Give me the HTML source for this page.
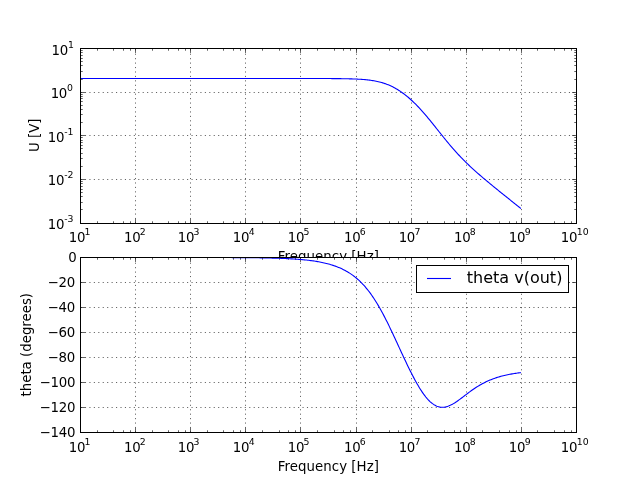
<!DOCTYPE html>
<html><head><meta charset="utf-8"><title>Bode plot</title>
<style>html,body{margin:0;padding:0;background:#fff;overflow:hidden}svg{display:block}text{font-family:"DejaVu Sans","Liberation Sans",sans-serif;fill:#000}.t{font-size:13.33px}.s{font-size:9.33px}.m{letter-spacing:-0.25px}.g{stroke:#000;stroke-width:0.62;stroke-dasharray:1.11 3.33;fill:none}.k{stroke:#000;stroke-width:0.62;fill:none}.f{stroke:#000;stroke-width:1;fill:none}.c{stroke:#00f;stroke-width:1.11;fill:none;stroke-linejoin:round}</style></head><body>
<svg width="640" height="480" viewBox="0 0 640 480">
<rect width="640" height="480" fill="#fff"/>
<text class="t" x="328.4" y="261" text-anchor="middle" style="letter-spacing:0.04px">Frequency [Hz]</text>
<rect x="80" y="257.5" width="497" height="175" fill="#fff"/>
<path class="g" d="M135.50 223.50V48.50M190.50 223.50V48.50M245.50 223.50V48.50M300.50 223.50V48.50M356.50 223.50V48.50M411.50 223.50V48.50M466.50 223.50V48.50M521.50 223.50V48.50M80.50 92.50H576.50M80.50 135.50H576.50M80.50 179.50H576.50"/>
<path class="k" d="M80.50 223.50v-4.44M80.50 48.50v4.44M135.50 223.50v-4.44M135.50 48.50v4.44M190.50 223.50v-4.44M190.50 48.50v4.44M245.50 223.50v-4.44M245.50 48.50v4.44M300.50 223.50v-4.44M300.50 48.50v4.44M356.50 223.50v-4.44M356.50 48.50v4.44M411.50 223.50v-4.44M411.50 48.50v4.44M466.50 223.50v-4.44M466.50 48.50v4.44M521.50 223.50v-4.44M521.50 48.50v4.44M576.50 223.50v-4.44M576.50 48.50v4.44M97.50 223.50v-2.22M97.50 48.50v2.22M113.50 223.50v-2.22M113.50 48.50v2.22M123.50 223.50v-2.22M123.50 48.50v2.22M130.50 223.50v-2.22M130.50 48.50v2.22M152.50 223.50v-2.22M152.50 48.50v2.22M168.50 223.50v-2.22M168.50 48.50v2.22M178.50 223.50v-2.22M178.50 48.50v2.22M185.50 223.50v-2.22M185.50 48.50v2.22M207.50 223.50v-2.22M207.50 48.50v2.22M223.50 223.50v-2.22M223.50 48.50v2.22M233.50 223.50v-2.22M233.50 48.50v2.22M240.50 223.50v-2.22M240.50 48.50v2.22M262.50 223.50v-2.22M262.50 48.50v2.22M279.50 223.50v-2.22M279.50 48.50v2.22M288.50 223.50v-2.22M288.50 48.50v2.22M295.50 223.50v-2.22M295.50 48.50v2.22M317.50 223.50v-2.22M317.50 48.50v2.22M334.50 223.50v-2.22M334.50 48.50v2.22M343.50 223.50v-2.22M343.50 48.50v2.22M350.50 223.50v-2.22M350.50 48.50v2.22M372.50 223.50v-2.22M372.50 48.50v2.22M389.50 223.50v-2.22M389.50 48.50v2.22M398.50 223.50v-2.22M398.50 48.50v2.22M405.50 223.50v-2.22M405.50 48.50v2.22M427.50 223.50v-2.22M427.50 48.50v2.22M444.50 223.50v-2.22M444.50 48.50v2.22M454.50 223.50v-2.22M454.50 48.50v2.22M460.50 223.50v-2.22M460.50 48.50v2.22M482.50 223.50v-2.22M482.50 48.50v2.22M499.50 223.50v-2.22M499.50 48.50v2.22M509.50 223.50v-2.22M509.50 48.50v2.22M516.50 223.50v-2.22M516.50 48.50v2.22M537.50 223.50v-2.22M537.50 48.50v2.22M554.50 223.50v-2.22M554.50 48.50v2.22M564.50 223.50v-2.22M564.50 48.50v2.22M571.50 223.50v-2.22M571.50 48.50v2.22M80.50 48.50h4.44M576.50 48.50h-4.44M80.50 92.50h4.44M576.50 92.50h-4.44M80.50 135.50h4.44M576.50 135.50h-4.44M80.50 179.50h4.44M576.50 179.50h-4.44M80.50 223.50h4.44M576.50 223.50h-4.44M80.50 209.50h2.22M576.50 209.50h-2.22M80.50 202.50h2.22M576.50 202.50h-2.22M80.50 196.50h2.22M576.50 196.50h-2.22M80.50 192.50h2.22M576.50 192.50h-2.22M80.50 189.50h2.22M576.50 189.50h-2.22M80.50 186.50h2.22M576.50 186.50h-2.22M80.50 183.50h2.22M576.50 183.50h-2.22M80.50 181.50h2.22M576.50 181.50h-2.22M80.50 166.50h2.22M576.50 166.50h-2.22M80.50 158.50h2.22M576.50 158.50h-2.22M80.50 153.50h2.22M576.50 153.50h-2.22M80.50 148.50h2.22M576.50 148.50h-2.22M80.50 145.50h2.22M576.50 145.50h-2.22M80.50 142.50h2.22M576.50 142.50h-2.22M80.50 140.50h2.22M576.50 140.50h-2.22M80.50 137.50h2.22M576.50 137.50h-2.22M80.50 122.50h2.22M576.50 122.50h-2.22M80.50 114.50h2.22M576.50 114.50h-2.22M80.50 109.50h2.22M576.50 109.50h-2.22M80.50 105.50h2.22M576.50 105.50h-2.22M80.50 101.50h2.22M576.50 101.50h-2.22M80.50 98.50h2.22M576.50 98.50h-2.22M80.50 96.50h2.22M576.50 96.50h-2.22M80.50 94.50h2.22M576.50 94.50h-2.22M80.50 79.50h2.22M576.50 79.50h-2.22M80.50 71.50h2.22M576.50 71.50h-2.22M80.50 65.50h2.22M576.50 65.50h-2.22M80.50 61.50h2.22M576.50 61.50h-2.22M80.50 58.50h2.22M576.50 58.50h-2.22M80.50 55.50h2.22M576.50 55.50h-2.22M80.50 52.50h2.22M576.50 52.50h-2.22M80.50 50.50h2.22M576.50 50.50h-2.22"/>
<clipPath id="c1"><rect x="80.50" y="48.50" width="496.00" height="175.00"/></clipPath>
<path class="c" clip-path="url(#c1)" d="M80.00 78.50 L81.10 78.50 L82.21 78.50 L83.31 78.50 L84.42 78.50 L85.52 78.50 L86.63 78.50 L87.73 78.50 L88.84 78.50 L89.94 78.50 L91.05 78.50 L92.15 78.50 L93.26 78.50 L94.36 78.50 L95.47 78.50 L96.57 78.50 L97.68 78.50 L98.78 78.50 L99.89 78.50 L100.99 78.50 L102.10 78.50 L103.20 78.50 L104.31 78.50 L105.41 78.50 L106.52 78.50 L107.62 78.50 L108.73 78.50 L109.83 78.50 L110.94 78.50 L112.04 78.50 L113.15 78.50 L114.25 78.50 L115.36 78.50 L116.46 78.50 L117.57 78.50 L118.67 78.50 L119.78 78.50 L120.88 78.50 L121.99 78.50 L123.09 78.50 L124.20 78.50 L125.30 78.50 L126.41 78.50 L127.51 78.50 L128.62 78.50 L129.72 78.50 L130.83 78.50 L131.93 78.50 L133.04 78.50 L134.14 78.50 L135.25 78.50 L136.35 78.50 L137.46 78.50 L138.56 78.50 L139.67 78.50 L140.77 78.50 L141.88 78.50 L142.98 78.50 L144.09 78.50 L145.19 78.50 L146.30 78.50 L147.40 78.50 L148.51 78.50 L149.61 78.50 L150.72 78.50 L151.82 78.50 L152.93 78.50 L154.03 78.50 L155.14 78.50 L156.24 78.50 L157.35 78.50 L158.45 78.50 L159.56 78.50 L160.66 78.50 L161.77 78.50 L162.87 78.50 L163.98 78.50 L165.08 78.50 L166.19 78.50 L167.29 78.50 L168.40 78.50 L169.50 78.50 L170.61 78.50 L171.71 78.50 L172.82 78.50 L173.92 78.50 L175.03 78.50 L176.13 78.50 L177.24 78.50 L178.34 78.50 L179.45 78.50 L180.55 78.50 L181.66 78.50 L182.76 78.50 L183.87 78.50 L184.97 78.50 L186.08 78.50 L187.18 78.50 L188.29 78.50 L189.39 78.50 L190.50 78.50 L191.60 78.50 L192.71 78.50 L193.81 78.50 L194.92 78.50 L196.02 78.50 L197.13 78.50 L198.23 78.50 L199.34 78.50 L200.44 78.50 L201.55 78.50 L202.65 78.50 L203.76 78.50 L204.86 78.50 L205.97 78.50 L207.07 78.50 L208.18 78.50 L209.28 78.50 L210.39 78.50 L211.49 78.50 L212.60 78.50 L213.70 78.50 L214.81 78.50 L215.91 78.50 L217.02 78.50 L218.12 78.50 L219.23 78.50 L220.33 78.50 L221.44 78.50 L222.54 78.50 L223.65 78.50 L224.75 78.50 L225.86 78.50 L226.96 78.50 L228.07 78.50 L229.17 78.50 L230.28 78.50 L231.38 78.50 L232.49 78.50 L233.59 78.50 L234.70 78.50 L235.80 78.50 L236.91 78.50 L238.01 78.50 L239.12 78.50 L240.22 78.50 L241.33 78.50 L242.43 78.50 L243.54 78.50 L244.64 78.50 L245.75 78.50 L246.85 78.50 L247.96 78.50 L249.06 78.50 L250.17 78.50 L251.27 78.50 L252.38 78.50 L253.48 78.50 L254.59 78.50 L255.69 78.50 L256.80 78.50 L257.90 78.50 L259.01 78.50 L260.11 78.50 L261.22 78.50 L262.32 78.50 L263.43 78.50 L264.53 78.50 L265.64 78.50 L266.74 78.50 L267.85 78.50 L268.95 78.50 L270.06 78.50 L271.16 78.50 L272.27 78.50 L273.37 78.50 L274.48 78.50 L275.58 78.50 L276.69 78.50 L277.79 78.50 L278.90 78.50 L280.00 78.50 L281.11 78.50 L282.21 78.50 L283.32 78.50 L284.42 78.50 L285.53 78.50 L286.63 78.50 L287.74 78.50 L288.84 78.50 L289.95 78.50 L291.05 78.50 L292.16 78.50 L293.26 78.50 L294.37 78.50 L295.47 78.50 L296.58 78.50 L297.68 78.50 L298.79 78.51 L299.89 78.51 L301.00 78.51 L302.10 78.51 L303.21 78.51 L304.31 78.51 L305.42 78.51 L306.52 78.51 L307.63 78.51 L308.73 78.51 L309.84 78.51 L310.94 78.51 L312.05 78.51 L313.15 78.52 L314.26 78.52 L315.36 78.52 L316.47 78.52 L317.57 78.52 L318.68 78.53 L319.78 78.53 L320.89 78.53 L321.99 78.53 L323.10 78.54 L324.20 78.54 L325.31 78.54 L326.41 78.55 L327.52 78.55 L328.62 78.56 L329.73 78.56 L330.83 78.57 L331.94 78.58 L333.04 78.58 L334.15 78.59 L335.25 78.60 L336.36 78.61 L337.46 78.62 L338.57 78.63 L339.67 78.65 L340.78 78.66 L341.88 78.68 L342.99 78.69 L344.09 78.71 L345.20 78.73 L346.30 78.75 L347.41 78.78 L348.51 78.80 L349.62 78.83 L350.72 78.86 L351.83 78.90 L352.93 78.94 L354.04 78.98 L355.14 79.02 L356.25 79.07 L357.35 79.12 L358.46 79.18 L359.56 79.25 L360.67 79.32 L361.77 79.39 L362.88 79.47 L363.98 79.56 L365.09 79.66 L366.19 79.77 L367.30 79.88 L368.40 80.01 L369.51 80.15 L370.61 80.29 L371.72 80.45 L372.82 80.62 L373.93 80.81 L375.03 81.01 L376.14 81.22 L377.24 81.46 L378.35 81.70 L379.45 81.97 L380.56 82.26 L381.66 82.56 L382.77 82.89 L383.87 83.24 L384.98 83.60 L386.08 84.00 L387.19 84.41 L388.29 84.85 L389.40 85.32 L390.50 85.81 L391.61 86.32 L392.71 86.87 L393.82 87.43 L394.92 88.03 L396.03 88.65 L397.13 89.30 L398.24 89.98 L399.34 90.68 L400.45 91.41 L401.55 92.17 L402.66 92.96 L403.76 93.77 L404.87 94.61 L405.97 95.48 L407.08 96.37 L408.18 97.29 L409.29 98.24 L410.39 99.22 L411.50 100.22 L412.60 101.24 L413.71 102.30 L414.81 103.37 L415.92 104.47 L417.02 105.60 L418.13 106.75 L419.23 107.92 L420.34 109.12 L421.44 110.33 L422.55 111.57 L423.65 112.83 L424.76 114.10 L425.86 115.39 L426.97 116.70 L428.07 118.02 L429.18 119.36 L430.28 120.71 L431.39 122.07 L432.49 123.43 L433.60 124.81 L434.70 126.19 L435.81 127.58 L436.91 128.97 L438.02 130.36 L439.12 131.75 L440.23 133.13 L441.33 134.52 L442.43 135.90 L443.54 137.27 L444.64 138.64 L445.75 139.99 L446.85 141.34 L447.96 142.68 L449.06 144.00 L450.17 145.31 L451.27 146.61 L452.38 147.89 L453.48 149.16 L454.59 150.41 L455.69 151.64 L456.80 152.86 L457.90 154.07 L459.01 155.25 L460.11 156.43 L461.22 157.58 L462.32 158.72 L463.43 159.85 L464.53 160.96 L465.64 162.05 L466.74 163.13 L467.85 164.20 L468.95 165.25 L470.06 166.30 L471.16 167.33 L472.27 168.35 L473.37 169.36 L474.48 170.36 L475.58 171.35 L476.69 172.33 L477.79 173.30 L478.90 174.27 L480.00 175.23 L481.11 176.18 L482.21 177.12 L483.32 178.06 L484.42 179.00 L485.53 179.93 L486.63 180.85 L487.74 181.77 L488.84 182.69 L489.95 183.61 L491.05 184.52 L492.16 185.42 L493.26 186.33 L494.37 187.23 L495.47 188.13 L496.58 189.03 L497.68 189.92 L498.79 190.82 L499.89 191.71 L501.00 192.60 L502.10 193.49 L503.21 194.38 L504.31 195.26 L505.42 196.15 L506.52 197.04 L507.63 197.92 L508.73 198.80 L509.84 199.69 L510.94 200.57 L512.05 201.45 L513.15 202.33 L514.26 203.21 L515.36 204.09 L516.47 204.97 L517.57 205.85 L518.68 206.73 L519.78 207.61 L520.89 208.48"/>
<rect class="f" x="80.50" y="48.50" width="496.00" height="175.00"/>
<path class="g" d="M135.50 432.50V257.50M190.50 432.50V257.50M245.50 432.50V257.50M300.50 432.50V257.50M356.50 432.50V257.50M411.50 432.50V257.50M466.50 432.50V257.50M521.50 432.50V257.50M80.50 282.50H576.50M80.50 307.50H576.50M80.50 332.50H576.50M80.50 357.50H576.50M80.50 382.50H576.50M80.50 407.50H576.50"/>
<path class="k" d="M80.50 432.50v-4.44M80.50 257.50v4.44M135.50 432.50v-4.44M135.50 257.50v4.44M190.50 432.50v-4.44M190.50 257.50v4.44M245.50 432.50v-4.44M245.50 257.50v4.44M300.50 432.50v-4.44M300.50 257.50v4.44M356.50 432.50v-4.44M356.50 257.50v4.44M411.50 432.50v-4.44M411.50 257.50v4.44M466.50 432.50v-4.44M466.50 257.50v4.44M521.50 432.50v-4.44M521.50 257.50v4.44M576.50 432.50v-4.44M576.50 257.50v4.44M97.50 432.50v-2.22M97.50 257.50v2.22M113.50 432.50v-2.22M113.50 257.50v2.22M123.50 432.50v-2.22M123.50 257.50v2.22M130.50 432.50v-2.22M130.50 257.50v2.22M152.50 432.50v-2.22M152.50 257.50v2.22M168.50 432.50v-2.22M168.50 257.50v2.22M178.50 432.50v-2.22M178.50 257.50v2.22M185.50 432.50v-2.22M185.50 257.50v2.22M207.50 432.50v-2.22M207.50 257.50v2.22M223.50 432.50v-2.22M223.50 257.50v2.22M233.50 432.50v-2.22M233.50 257.50v2.22M240.50 432.50v-2.22M240.50 257.50v2.22M262.50 432.50v-2.22M262.50 257.50v2.22M279.50 432.50v-2.22M279.50 257.50v2.22M288.50 432.50v-2.22M288.50 257.50v2.22M295.50 432.50v-2.22M295.50 257.50v2.22M317.50 432.50v-2.22M317.50 257.50v2.22M334.50 432.50v-2.22M334.50 257.50v2.22M343.50 432.50v-2.22M343.50 257.50v2.22M350.50 432.50v-2.22M350.50 257.50v2.22M372.50 432.50v-2.22M372.50 257.50v2.22M389.50 432.50v-2.22M389.50 257.50v2.22M398.50 432.50v-2.22M398.50 257.50v2.22M405.50 432.50v-2.22M405.50 257.50v2.22M427.50 432.50v-2.22M427.50 257.50v2.22M444.50 432.50v-2.22M444.50 257.50v2.22M454.50 432.50v-2.22M454.50 257.50v2.22M460.50 432.50v-2.22M460.50 257.50v2.22M482.50 432.50v-2.22M482.50 257.50v2.22M499.50 432.50v-2.22M499.50 257.50v2.22M509.50 432.50v-2.22M509.50 257.50v2.22M516.50 432.50v-2.22M516.50 257.50v2.22M537.50 432.50v-2.22M537.50 257.50v2.22M554.50 432.50v-2.22M554.50 257.50v2.22M564.50 432.50v-2.22M564.50 257.50v2.22M571.50 432.50v-2.22M571.50 257.50v2.22M80.50 257.50h4.44M576.50 257.50h-4.44M80.50 282.50h4.44M576.50 282.50h-4.44M80.50 307.50h4.44M576.50 307.50h-4.44M80.50 332.50h4.44M576.50 332.50h-4.44M80.50 357.50h4.44M576.50 357.50h-4.44M80.50 382.50h4.44M576.50 382.50h-4.44M80.50 407.50h4.44M576.50 407.50h-4.44M80.50 432.50h4.44M576.50 432.50h-4.44"/>
<clipPath id="c2"><rect x="80.50" y="257.50" width="496.00" height="175.00"/></clipPath>
<path class="c" clip-path="url(#c2)" d="M80.00 257.46 L81.10 257.46 L82.21 257.46 L83.31 257.46 L84.42 257.46 L85.52 257.46 L86.63 257.46 L87.73 257.46 L88.84 257.46 L89.94 257.46 L91.05 257.46 L92.15 257.46 L93.26 257.46 L94.36 257.46 L95.47 257.46 L96.57 257.46 L97.68 257.46 L98.78 257.46 L99.89 257.46 L100.99 257.46 L102.10 257.46 L103.20 257.46 L104.31 257.46 L105.41 257.46 L106.52 257.46 L107.62 257.46 L108.73 257.46 L109.83 257.46 L110.94 257.46 L112.04 257.46 L113.15 257.46 L114.25 257.46 L115.36 257.46 L116.46 257.46 L117.57 257.46 L118.67 257.46 L119.78 257.46 L120.88 257.46 L121.99 257.46 L123.09 257.46 L124.20 257.46 L125.30 257.46 L126.41 257.46 L127.51 257.46 L128.62 257.46 L129.72 257.46 L130.83 257.46 L131.93 257.46 L133.04 257.46 L134.14 257.46 L135.25 257.46 L136.35 257.46 L137.46 257.46 L138.56 257.46 L139.67 257.46 L140.77 257.46 L141.88 257.46 L142.98 257.46 L144.09 257.46 L145.19 257.46 L146.30 257.46 L147.40 257.46 L148.51 257.46 L149.61 257.46 L150.72 257.46 L151.82 257.46 L152.93 257.46 L154.03 257.46 L155.14 257.46 L156.24 257.46 L157.35 257.46 L158.45 257.46 L159.56 257.46 L160.66 257.46 L161.77 257.46 L162.87 257.46 L163.98 257.46 L165.08 257.46 L166.19 257.46 L167.29 257.46 L168.40 257.46 L169.50 257.46 L170.61 257.46 L171.71 257.46 L172.82 257.46 L173.92 257.47 L175.03 257.47 L176.13 257.47 L177.24 257.47 L178.34 257.47 L179.45 257.47 L180.55 257.47 L181.66 257.47 L182.76 257.47 L183.87 257.47 L184.97 257.47 L186.08 257.47 L187.18 257.47 L188.29 257.47 L189.39 257.47 L190.50 257.48 L191.60 257.48 L192.71 257.48 L193.81 257.48 L194.92 257.48 L196.02 257.48 L197.13 257.48 L198.23 257.48 L199.34 257.48 L200.44 257.49 L201.55 257.49 L202.65 257.49 L203.76 257.49 L204.86 257.49 L205.97 257.49 L207.07 257.50 L208.18 257.50 L209.28 257.50 L210.39 257.50 L211.49 257.50 L212.60 257.51 L213.70 257.51 L214.81 257.51 L215.91 257.51 L217.02 257.52 L218.12 257.52 L219.23 257.52 L220.33 257.53 L221.44 257.53 L222.54 257.53 L223.65 257.54 L224.75 257.54 L225.86 257.54 L226.96 257.55 L228.07 257.55 L229.17 257.56 L230.28 257.56 L231.38 257.57 L232.49 257.57 L233.59 257.58 L234.70 257.59 L235.80 257.59 L236.91 257.60 L238.01 257.60 L239.12 257.61 L240.22 257.62 L241.33 257.63 L242.43 257.63 L243.54 257.64 L244.64 257.65 L245.75 257.66 L246.85 257.67 L247.96 257.68 L249.06 257.69 L250.17 257.70 L251.27 257.72 L252.38 257.73 L253.48 257.74 L254.59 257.75 L255.69 257.77 L256.80 257.78 L257.90 257.80 L259.01 257.81 L260.11 257.83 L261.22 257.85 L262.32 257.87 L263.43 257.89 L264.53 257.91 L265.64 257.93 L266.74 257.95 L267.85 257.97 L268.95 258.00 L270.06 258.02 L271.16 258.05 L272.27 258.08 L273.37 258.11 L274.48 258.14 L275.58 258.17 L276.69 258.21 L277.79 258.24 L278.90 258.28 L280.00 258.32 L281.11 258.36 L282.21 258.40 L283.32 258.45 L284.42 258.49 L285.53 258.54 L286.63 258.59 L287.74 258.65 L288.84 258.70 L289.95 258.76 L291.05 258.83 L292.16 258.89 L293.26 258.96 L294.37 259.03 L295.47 259.10 L296.58 259.18 L297.68 259.26 L298.79 259.35 L299.89 259.44 L301.00 259.53 L302.10 259.63 L303.21 259.73 L304.31 259.84 L305.42 259.95 L306.52 260.07 L307.63 260.19 L308.73 260.32 L309.84 260.46 L310.94 260.60 L312.05 260.75 L313.15 260.90 L314.26 261.07 L315.36 261.24 L316.47 261.42 L317.57 261.60 L318.68 261.80 L319.78 262.00 L320.89 262.22 L321.99 262.44 L323.10 262.68 L324.20 262.92 L325.31 263.18 L326.41 263.45 L327.52 263.73 L328.62 264.03 L329.73 264.34 L330.83 264.66 L331.94 265.00 L333.04 265.36 L334.15 265.73 L335.25 266.12 L336.36 266.52 L337.46 266.95 L338.57 267.40 L339.67 267.86 L340.78 268.35 L341.88 268.86 L342.99 269.39 L344.09 269.95 L345.20 270.53 L346.30 271.14 L347.41 271.78 L348.51 272.45 L349.62 273.14 L350.72 273.87 L351.83 274.63 L352.93 275.42 L354.04 276.25 L355.14 277.11 L356.25 278.02 L357.35 278.96 L358.46 279.94 L359.56 280.96 L360.67 282.02 L361.77 283.13 L362.88 284.28 L363.98 285.48 L365.09 286.72 L366.19 288.02 L367.30 289.36 L368.40 290.75 L369.51 292.20 L370.61 293.69 L371.72 295.24 L372.82 296.84 L373.93 298.49 L375.03 300.20 L376.14 301.95 L377.24 303.76 L378.35 305.62 L379.45 307.52 L380.56 309.48 L381.66 311.48 L382.77 313.53 L383.87 315.62 L384.98 317.75 L386.08 319.92 L387.19 322.12 L388.29 324.36 L389.40 326.63 L390.50 328.93 L391.61 331.25 L392.71 333.59 L393.82 335.95 L394.92 338.32 L396.03 340.70 L397.13 343.09 L398.24 345.49 L399.34 347.88 L400.45 350.28 L401.55 352.66 L402.66 355.04 L403.76 357.41 L404.87 359.76 L405.97 362.09 L407.08 364.40 L408.18 366.69 L409.29 368.95 L410.39 371.17 L411.50 373.36 L412.60 375.52 L413.71 377.63 L414.81 379.69 L415.92 381.71 L417.02 383.67 L418.13 385.58 L419.23 387.43 L420.34 389.21 L421.44 390.92 L422.55 392.57 L423.65 394.14 L424.76 395.62 L425.86 397.03 L426.97 398.36 L428.07 399.60 L429.18 400.75 L430.28 401.80 L431.39 402.77 L432.49 403.64 L433.60 404.42 L434.70 405.10 L435.81 405.69 L436.91 406.18 L438.02 406.58 L439.12 406.89 L440.23 407.10 L441.33 407.23 L442.43 407.26 L443.54 407.22 L444.64 407.09 L445.75 406.89 L446.85 406.61 L447.96 406.26 L449.06 405.84 L450.17 405.36 L451.27 404.83 L452.38 404.25 L453.48 403.61 L454.59 402.94 L455.69 402.23 L456.80 401.49 L457.90 400.72 L459.01 399.92 L460.11 399.11 L461.22 398.28 L462.32 397.45 L463.43 396.61 L464.53 395.76 L465.64 394.92 L466.74 394.08 L467.85 393.25 L468.95 392.42 L470.06 391.61 L471.16 390.81 L472.27 390.03 L473.37 389.26 L474.48 388.51 L475.58 387.78 L476.69 387.06 L477.79 386.37 L478.90 385.70 L480.00 385.05 L481.11 384.42 L482.21 383.81 L483.32 383.22 L484.42 382.65 L485.53 382.10 L486.63 381.57 L487.74 381.07 L488.84 380.58 L489.95 380.11 L491.05 379.65 L492.16 379.22 L493.26 378.80 L494.37 378.40 L495.47 378.02 L496.58 377.65 L497.68 377.30 L498.79 376.97 L499.89 376.64 L501.00 376.33 L502.10 376.04 L503.21 375.75 L504.31 375.48 L505.42 375.22 L506.52 374.98 L507.63 374.74 L508.73 374.51 L509.84 374.30 L510.94 374.09 L512.05 373.89 L513.15 373.70 L514.26 373.52 L515.36 373.35 L516.47 373.18 L517.57 373.02 L518.68 372.87 L519.78 372.73 L520.89 372.59"/>
<rect class="f" x="80.50" y="257.50" width="496.00" height="175.00"/>
<text class="t" x="68.75" y="242"><tspan class="m">10</tspan><tspan class="s" dy="-7" dx="-0.6">1</tspan></text>
<text class="t" x="68.75" y="452"><tspan class="m">10</tspan><tspan class="s" dy="-7" dx="-0.6">1</tspan></text>
<text class="t" x="123.95" y="242"><tspan class="m">10</tspan><tspan class="s" dy="-7" dx="-0.6">2</tspan></text>
<text class="t" x="123.95" y="452"><tspan class="m">10</tspan><tspan class="s" dy="-7" dx="-0.6">2</tspan></text>
<text class="t" x="177.75" y="242"><tspan class="m">10</tspan><tspan class="s" dy="-7" dx="-0.6">3</tspan></text>
<text class="t" x="177.75" y="452"><tspan class="m">10</tspan><tspan class="s" dy="-7" dx="-0.6">3</tspan></text>
<text class="t" x="232.85" y="242"><tspan class="m">10</tspan><tspan class="s" dy="-7" dx="-0.6">4</tspan></text>
<text class="t" x="232.85" y="452"><tspan class="m">10</tspan><tspan class="s" dy="-7" dx="-0.6">4</tspan></text>
<text class="t" x="287.75" y="242"><tspan class="m">10</tspan><tspan class="s" dy="-7" dx="-0.6">5</tspan></text>
<text class="t" x="287.75" y="452"><tspan class="m">10</tspan><tspan class="s" dy="-7" dx="-0.6">5</tspan></text>
<text class="t" x="343.95" y="242"><tspan class="m">10</tspan><tspan class="s" dy="-7" dx="-0.6">6</tspan></text>
<text class="t" x="343.95" y="452"><tspan class="m">10</tspan><tspan class="s" dy="-7" dx="-0.6">6</tspan></text>
<text class="t" x="398.65" y="242"><tspan class="m">10</tspan><tspan class="s" dy="-7" dx="-0.6">7</tspan></text>
<text class="t" x="398.65" y="452"><tspan class="m">10</tspan><tspan class="s" dy="-7" dx="-0.6">7</tspan></text>
<text class="t" x="453.95" y="242"><tspan class="m">10</tspan><tspan class="s" dy="-7" dx="-0.6">8</tspan></text>
<text class="t" x="453.95" y="452"><tspan class="m">10</tspan><tspan class="s" dy="-7" dx="-0.6">8</tspan></text>
<text class="t" x="508.85" y="242"><tspan class="m">10</tspan><tspan class="s" dy="-7" dx="-0.6">9</tspan></text>
<text class="t" x="508.85" y="452"><tspan class="m">10</tspan><tspan class="s" dy="-7" dx="-0.6">9</tspan></text>
<text class="t" x="560.85" y="242"><tspan class="m">10</tspan><tspan class="s" dy="-7" dx="-0.6">10</tspan></text>
<text class="t" x="560.85" y="452"><tspan class="m">10</tspan><tspan class="s" dy="-7" dx="-0.6">10</tspan></text>
<text class="t" x="51.50" y="55"><tspan class="m">10</tspan><tspan class="s" dy="-7">1</tspan></text>
<text class="t" x="50.65" y="98"><tspan class="m">10</tspan><tspan class="s" dy="-7">0</tspan></text>
<text class="t" x="47.70" y="142"><tspan class="m">10</tspan><tspan class="s" dy="-7">-1</tspan></text>
<text class="t" x="47.70" y="185"><tspan class="m">10</tspan><tspan class="s" dy="-7">-2</tspan></text>
<text class="t" x="47.70" y="229"><tspan class="m">10</tspan><tspan class="s" dy="-7">-3</tspan></text>
<text class="t" x="76.75" y="262" text-anchor="end">0</text>
<text class="t" x="47.50" y="287" style="letter-spacing:-0.2px">−20</text>
<text class="t" x="47.50" y="312" style="letter-spacing:-0.2px">−40</text>
<text class="t" x="47.50" y="337" style="letter-spacing:-0.2px">−60</text>
<text class="t" x="47.50" y="362" style="letter-spacing:-0.2px">−80</text>
<text class="t" x="39.60" y="387" style="letter-spacing:-0.2px">−100</text>
<text class="t" x="39.60" y="412" style="letter-spacing:-0.2px">−120</text>
<text class="t" x="39.60" y="437" style="letter-spacing:-0.2px">−140</text>
<text class="t" x="328.4" y="471" text-anchor="middle" style="letter-spacing:0.04px">Frequency [Hz]</text>
<text class="t" transform="translate(38.7 135.2) rotate(-90)" text-anchor="middle">U [V]</text>
<text class="t" transform="translate(30.8 344.7) rotate(-90)" text-anchor="middle">theta (degrees)</text>
<rect x="416.5" y="265.5" width="152" height="27" fill="#fff" stroke="#000" stroke-width="1"/>
<path class="c" d="M427 278.5H451"/>
<text x="466.8" y="283" style="font-size:16px">theta v(out)</text>
</svg></body></html>
